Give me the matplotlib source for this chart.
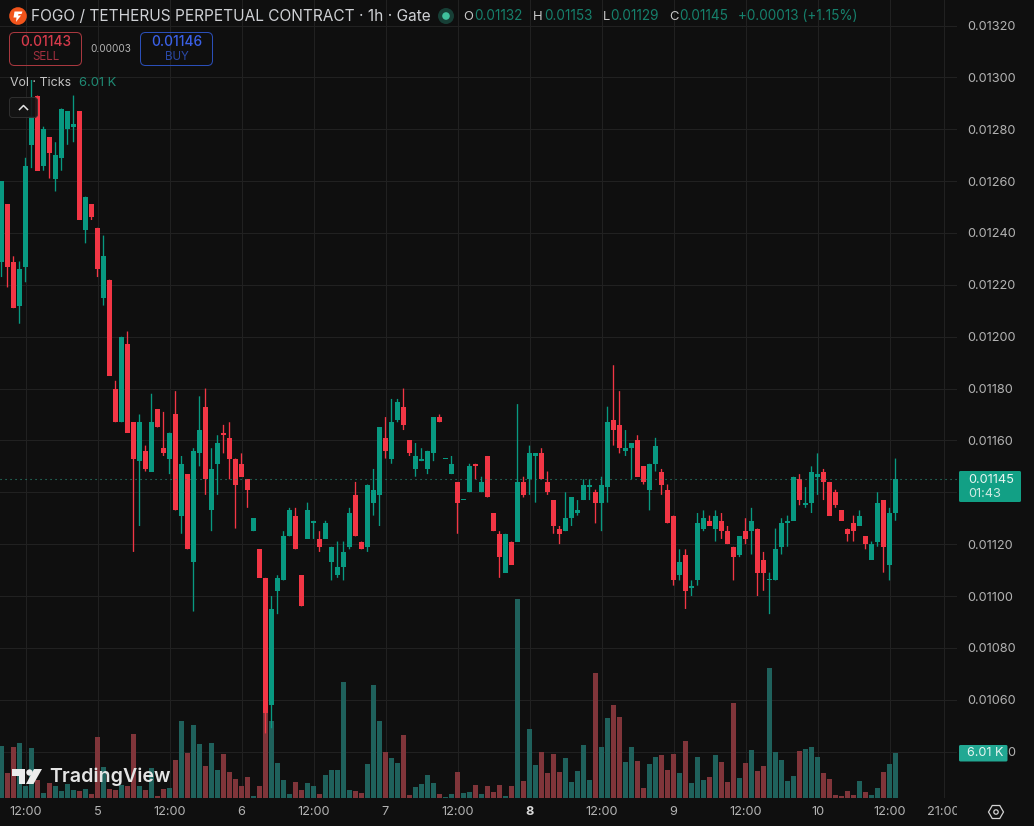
import matplotlib
matplotlib.use("Agg")
import matplotlib.pyplot as plt
import numpy as np
from matplotlib.patches import Circle, FancyBboxPatch, Polygon, RegularPolygon
from matplotlib.transforms import Bbox

plt.rcParams['font.family'] = ['Inter', 'DejaVu Sans']

W, H = 1034, 826

# hourly candles, prices in units of 0.00001 (one tick)
opens = [1229, 1251, 1229, 1212, 1227, 1274, 1293, 1266, 1277, 1261,
         1269, 1280, 1281, 1287, 1241, 1251, 1242, 1215, 1222, 1180,
         1167, 1197, 1167, 1152, 1156, 1148, 1172, 1157, 1153, 1170,
         1131, 1147, 1113, 1155, 1173, 1133, 1151, 1163, 1161, 1153,
         1151, 1145, 1125, 1118, 1107, 1058, 1102, 1106, 1123, 1131,
         1108, 1122, 1128, 1122, 1122, 1113, 1108, 1111, 1119, 1139,
         1121, 1119, 1136, 1139, 1161, 1153, 1168, 1173, 1160, 1149,
         1152, 1149, 1155, 1169, 1153, 1147, 1144, 1137, 1140, 1151,
         1140, 1154, 1132, 1124, 1109, 1121, 1121, 1144, 1145, 1154,
         1155, 1144, 1137, 1126, 1125, 1130, 1132, 1137, 1142, 1140,
         1136, 1142, 1168, 1166, 1156, 1157, 1160, 1150, 1141, 1151,
         1148, 1141, 1131, 1108, 1116, 1103, 1106, 1126, 1129, 1126,
         1129, 1125, 1119, 1116, 1125, 1125, 1126, 1114, 1106, 1106,
         1119, 1128, 1129, 1145, 1135, 1136, 1146, 1148, 1144, 1140,
         1133, 1126, 1128, 1127, 1123, 1114, 1121, 1137, 1112, 1132]
highs = [1260, 1251, 1231, 1229, 1269, 1299, 1293, 1281, 1277, 1275,
         1288, 1287, 1293, 1287, 1254, 1251, 1242, 1239, 1222, 1183,
         1200, 1202, 1167, 1170, 1158, 1178, 1172, 1171, 1163, 1179,
         1154, 1147, 1157, 1177, 1180, 1157, 1162, 1166, 1167, 1153,
         1155, 1145, 1130, 1118, 1107, 1100, 1108, 1125, 1134, 1134,
         1108, 1136, 1129, 1125, 1129, 1119, 1121, 1121, 1134, 1144,
         1121, 1143, 1149, 1165, 1169, 1176, 1176, 1180, 1160, 1159,
         1157, 1156, 1169, 1170, 1153, 1154, 1144, 1137, 1151, 1151,
         1146, 1154, 1132, 1125, 1124, 1121, 1174, 1146, 1158, 1155,
         1157, 1148, 1137, 1127, 1140, 1138, 1137, 1145, 1145, 1141,
         1146, 1173, 1189, 1179, 1164, 1159, 1162, 1150, 1151, 1161,
         1149, 1143, 1131, 1118, 1118, 1106, 1132, 1133, 1131, 1133,
         1132, 1127, 1119, 1123, 1130, 1134, 1126, 1117, 1109, 1126,
         1130, 1131, 1146, 1147, 1142, 1150, 1155, 1149, 1144, 1141,
         1133, 1126, 1131, 1133, 1123, 1121, 1140, 1137, 1134, 1153]
lows = [1223, 1219, 1211, 1205, 1221, 1265, 1264, 1264, 1261, 1256,
        1264, 1274, 1275, 1245, 1236, 1245, 1223, 1212, 1185, 1167,
        1167, 1163, 1117, 1127, 1148, 1148, 1165, 1154, 1147, 1133,
        1124, 1118, 1094, 1150, 1139, 1125, 1139, 1155, 1145, 1126,
        1146, 1134, 1125, 1107, 1047, 1049, 1093, 1106, 1123, 1118,
        1096, 1122, 1122, 1117, 1122, 1106, 1107, 1106, 1118, 1123,
        1118, 1117, 1131, 1127, 1153, 1151, 1167, 1164, 1154, 1146,
        1152, 1147, 1152, 1167, 1153, 1147, 1124, 1137, 1140, 1145,
        1140, 1138, 1125, 1107, 1109, 1112, 1121, 1138, 1139, 1136,
        1145, 1139, 1124, 1120, 1125, 1127, 1131, 1137, 1137, 1128,
        1125, 1136, 1158, 1155, 1154, 1145, 1146, 1143, 1133, 1148,
        1139, 1128, 1104, 1106, 1095, 1100, 1104, 1125, 1127, 1121,
        1122, 1120, 1106, 1115, 1120, 1116, 1100, 1102, 1093, 1106,
        1116, 1119, 1129, 1135, 1134, 1132, 1139, 1137, 1131, 1134,
        1129, 1121, 1121, 1127, 1118, 1114, 1119, 1109, 1106, 1129]
closes = [1260, 1227, 1211, 1226, 1266, 1285, 1264, 1280, 1271, 1270,
          1288, 1287, 1282, 1245, 1254, 1246, 1226, 1231, 1185, 1167,
          1200, 1163, 1153, 1167, 1149, 1167, 1165, 1155, 1163, 1133,
          1151, 1118, 1156, 1164, 1145, 1149, 1159, 1162, 1153, 1143,
          1146, 1141, 1130, 1107, 1055, 1095, 1107, 1123, 1133, 1118,
          1096, 1133, 1129, 1119, 1128, 1119, 1111, 1117, 1132, 1123,
          1118, 1143, 1141, 1165, 1156, 1167, 1175, 1166, 1155, 1154,
          1153, 1156, 1169, 1167, 1153, 1151, 1136, 1137, 1150, 1150,
          1144, 1138, 1125, 1115, 1124, 1112, 1144, 1139, 1155, 1155,
          1145, 1140, 1127, 1124, 1130, 1138, 1133, 1143, 1143, 1136,
          1143, 1167, 1164, 1157, 1157, 1159, 1146, 1144, 1151, 1158,
          1143, 1128, 1106, 1113, 1102, 1104, 1128, 1130, 1127, 1131,
          1125, 1120, 1115, 1123, 1122, 1129, 1109, 1109, 1106, 1118,
          1128, 1129, 1146, 1137, 1136, 1148, 1147, 1144, 1131, 1135,
          1129, 1124, 1125, 1131, 1120, 1120, 1136, 1119, 1132, 1145]

# volume per hour in thousands of ticks
volumes = [7.0, 3.4, 6.9, 7.4, 1.6, 6.7, 2.4, 0.7, 2.0, 1.6,
           0.9, 1.9, 1.1, 0.9, 1.2, 0.5, 8.2, 4.2, 1.2, 1.1,
           1.7, 1.6, 8.6, 1.6, 1.1, 4.0, 0.3, 1.2, 1.3, 5.1,
           10.3, 6.0, 9.8, 7.3, 4.3, 7.4, 3.8, 5.9, 3.5, 2.6,
           1.6, 2.8, 0.3, 1.6, 11.4, 10.3, 4.7, 2.4, 0.5, 2.2,
           1.1, 2.0, 1.6, 0.5, 3.1, 3.8, 3.8, 15.6, 1.1, 0.9,
           0.7, 4.6, 15.2, 10.3, 6.2, 5.4, 4.7, 8.5, 0.4, 1.5,
           1.9, 3.1, 2.0, 0.5, 0.1, 0.5, 3.5, 0.7, 0.8, 1.7,
           0.5, 1.6, 0.8, 1.7, 0.3, 1.6, 26.7, 2.3, 9.3, 4.4,
           6.2, 3.4, 5.9, 3.5, 5.4, 2.2, 3.6, 7.1, 2.4, 16.8,
           6.9, 10.8, 12.5, 10.9, 4.8, 6.9, 5.0, 1.3, 4.6, 5.5,
           5.8, 3.8, 5.9, 3.4, 7.7, 2.0, 5.5, 2.4, 2.8, 5.8,
           4.8, 2.2, 12.8, 2.7, 4.7, 6.5, 3.6, 4.3, 17.5, 6.2,
           5.1, 2.3, 3.0, 6.3, 6.6, 6.9, 5.5, 3.4, 2.6, 0.4,
           0.3, 0.9, 0.4, 2.3, 0.8, 0.4, 1.3, 3.5, 4.6, 6.01]

# hour offsets of the time axis labels
time_ticks = [4, 16, 28, 40, 52, 64, 76, 88, 100, 112, 124, 136, 148, 157]
time_labels = ['12:00', '5', '12:00', '6', '12:00', '7', '12:00', '8',
               '12:00', '9', '12:00', '10', '12:00', '21:00']
price_ticks = [1040, 1060, 1080, 1100, 1120, 1140, 1160, 1180, 1200,
               1220, 1240, 1260, 1280, 1300, 1320]

BG = '#0f0f0f'
GRID = '#212121'
RED = '#f23645'
GREEN = '#089981'
RED_VOL = '#80353a'
GREEN_VOL = '#1f615c'
AXIS_TEXT = '#b2b2b2'

PANE_RIGHT = 957
PANE_BOTTOM = 798
PX_PER_TICK = 2.593
PX_PER_K = 1 / 0.1345
TOP_PRICE = 1329.85

opens = np.array(opens, dtype=float)
highs = np.array(highs, dtype=float)
lows = np.array(lows, dtype=float)
closes = np.array(closes, dtype=float)
volumes = np.array(volumes)
hours = np.arange(len(opens))
up = closes >= opens


def fx(px):
    return px / W


def fy(py):
    return 1 - py / H


def fig_text(px, py, s, color, size_px, **kw):
    kw.setdefault('ha', 'left')
    kw.setdefault('va', 'center')
    return fig.text(fx(px), fy(py), s, color=color, fontsize=size_px * 0.72, zorder=20, **kw)


def rounded_box(x0, y0, x1, y1, edge, face='none', radius=4, lw=1.0, alpha=None):
    box = FancyBboxPatch((x0, H - y1), x1 - x0, y1 - y0,
                         boxstyle='round,pad=0,rounding_size=%g' % radius,
                         transform=None, edgecolor=edge, facecolor=face,
                         linewidth=lw * 0.72, alpha=alpha, zorder=15)
    fig.add_artist(box)
    return box


def px_polygon(points, **kw):
    pts = [(x, H - y) for x, y in points]
    patch = Polygon(pts, closed=True, transform=None, zorder=16, linewidth=0, **kw)
    fig.add_artist(patch)


fig = plt.figure(figsize=(W / 100, H / 100), dpi=100, facecolor=BG)
rect = [0, 1 - PANE_BOTTOM / H, PANE_RIGHT / W, PANE_BOTTOM / H]

# bottom layer carries the grid and the two scales
ax = fig.add_axes(rect, facecolor=BG)
ax.set_xlim(-1.5 / 6, (PANE_RIGHT - 1.5) / 6)
ax.set_ylim(TOP_PRICE - PANE_BOTTOM / PX_PER_TICK, TOP_PRICE)
ax.set_xticks(time_ticks)
ax.set_xticklabels(time_labels)
ax.yaxis.tick_right()
ax.set_yticks(price_ticks)
# 0.01140 sits under the last price label, so it only gets its grid line
ax.set_yticklabels(['' if p == 1140 else '%.5f' % (p * 1e-5) for p in price_ticks])
ax.tick_params(axis='x', length=0, pad=6, labelsize=9.2, labelcolor=AXIS_TEXT)
ax.tick_params(axis='y', length=0, pad=7.2, labelsize=9.2, labelcolor=AXIS_TEXT)
ax.grid(True, color=GRID, linewidth=0.72)
ax.set_axisbelow(True)
for spine in ax.spines.values():
    spine.set_visible(False)

# horizontal labels: the day change is emphasised, the last one runs off the pane
clip = Bbox([[0, 0], [PANE_RIGHT, H]])
for label in ax.get_xticklabels():
    label.set_clip_box(clip)
    label.set_clip_on(True)
    if label.get_text() == '8':
        label.set_fontweight('bold')
        label.set_color('#d8d8d8')

# volume pane shares the hours, its own scale puts zero on the bottom edge
ax_vol = fig.add_axes(rect, sharex=ax, frameon=False)
ax_vol.patch.set_visible(False)
ax_vol.set_ylim(0, PANE_BOTTOM / PX_PER_K)
ax_vol.axis('off')
ax_vol.bar(hours, volumes, width=5 / 6, linewidth=0,
           color=np.where(up, GREEN_VOL, RED_VOL))

# candles on top of the volume
ax_c = fig.add_axes(rect, sharex=ax, sharey=ax, frameon=False)
ax_c.patch.set_visible(False)
ax_c.axis('off')
colors = np.where(up, GREEN, RED)
# hour centres already fall on pixel centres, snapping would push the wicks one pixel off
wicks = ax_c.vlines(hours, lows, highs, colors=colors, linewidth=0.95)
wicks.set_snap(False)
body_low = np.minimum(opens, closes)
body_h = np.maximum(np.abs(closes - opens), 1 / PX_PER_TICK)
ax_c.bar(hours, body_h, bottom=body_low, width=5 / 6, color=colors, linewidth=0)
ax_c.axhline(closes[-1], color='#2b8f7b', linewidth=0.8, linestyle=(0, (1, 3.5)))

# header
fig.add_artist(Circle((18, H - 16), 8.8, transform=None, facecolor='#f2541b',
                      edgecolor='none', zorder=15))
px_polygon([(14.5, 11.5), (22.5, 11.5), (21.5, 14), (18.5, 14), (18, 15.5), (21, 15.5),
            (16, 22), (16.5, 17.5), (13.5, 17.5)], facecolor='white')
fig_text(31, 16.5, 'FOGO / TETHERUS PERPETUAL CONTRACT · 1h · Gate', '#cfd1d5', 15.45)
fig.add_artist(Circle((446, H - 16), 8, transform=None, facecolor='#173f36',
                      edgecolor='none', zorder=15))
fig.add_artist(Circle((446, H - 16), 3.8, transform=None, facecolor='#3fc09c',
                      edgecolor='none', zorder=16))

LEGEND_VALUE = '#16806c'
for px, s, col, size in [(463, 'O', '#c8c8c8', 13), (474.5, '0.01132', LEGEND_VALUE, 13.6),
                         (533, 'H', '#c8c8c8', 13), (544, '0.01153', LEGEND_VALUE, 13.6),
                         (602.5, 'L', '#c8c8c8', 13), (610.5, '0.01129', LEGEND_VALUE, 13.6),
                         (669, 'C', '#c8c8c8', 13), (679, '0.01145', LEGEND_VALUE, 13.6),
                         (738, '+0.00013 (+1.15%)', LEGEND_VALUE, 13.6)]:
    fig_text(px, 16.5, s, col, size)

# order buttons
rounded_box(9.5, 32.5, 81.5, 65.5, '#a8383f', radius=5)
fig_text(45.5, 41.5, '0.01143', '#d63a4b', 13.8, ha='center', fontweight='medium')
fig_text(45.5, 56.5, 'SELL', '#a3303f', 11.6, ha='center')
fig_text(111, 49.5, '0.00003', '#b4b4b4', 10, ha='center')
rounded_box(140.5, 32.5, 212.5, 65.5, '#2b4fb8', radius=5)
fig_text(176.5, 41.5, '0.01146', '#3a60e6', 13.8, ha='center', fontweight='medium')
fig_text(176.5, 56.5, 'BUY', '#2a49a8', 11.6, ha='center')

# volume legend and collapse button
fig_text(10, 82.5, 'Vol · Ticks', '#c4c4c4', 12.4)
fig_text(79, 82.5, '6.01 K', '#1f8a74', 13)
rounded_box(9.5, 97.5, 37.5, 117.5, '#323232', face='#141414', radius=3, alpha=0.9)
fig.add_artist(plt.Line2D([19.5, 23.5, 27.5], [H - 109.5, H - 105.5, H - 109.5], transform=None,
                          color='#e4e4e4', linewidth=1.1, zorder=17))

# last price and volume labels on the scale
rounded_box(959, 471, 1021, 502, '#12a085', face='#12a085', radius=1.5, lw=0)
fig_text(968, 480, '0.01145', '#e6f5f1', 12.8)
fig_text(968, 494, '01:43', '#cfeae3', 12.8)
rounded_box(959, 745, 1007.5, 761.5, '#22a893', face='#22a893', radius=1.5, lw=0)
fig_text(967, 753.5, '6.01 K', '#e6f5f1', 12.6)

# wordmark
px_polygon([(12, 769), (25, 769), (25, 784), (18.5, 784), (18.5, 776), (12, 776)],
           facecolor='#ececec')
fig.add_artist(Circle((29.5, H - 772.5), 3.2, transform=None, facecolor='#ececec',
                      edgecolor='none', zorder=16))
px_polygon([(34, 769), (42, 769), (33.5, 784), (26, 784)], facecolor='#ececec')
fig_text(49.5, 777, 'TradingView', '#e4e4e4', 19.6, fontweight='semibold')

# settings icon
fig.add_artist(RegularPolygon((996, H - 812), 6, radius=7.5, orientation=np.pi / 2,
                              transform=None, facecolor='none', edgecolor='#d2d2d2',
                              linewidth=0.9, zorder=16))
fig.add_artist(Circle((996, H - 812), 2.2, transform=None, facecolor='none',
                      edgecolor='#d2d2d2', linewidth=0.9, zorder=16))

fig.savefig('out.png', dpi=100, facecolor=BG)
